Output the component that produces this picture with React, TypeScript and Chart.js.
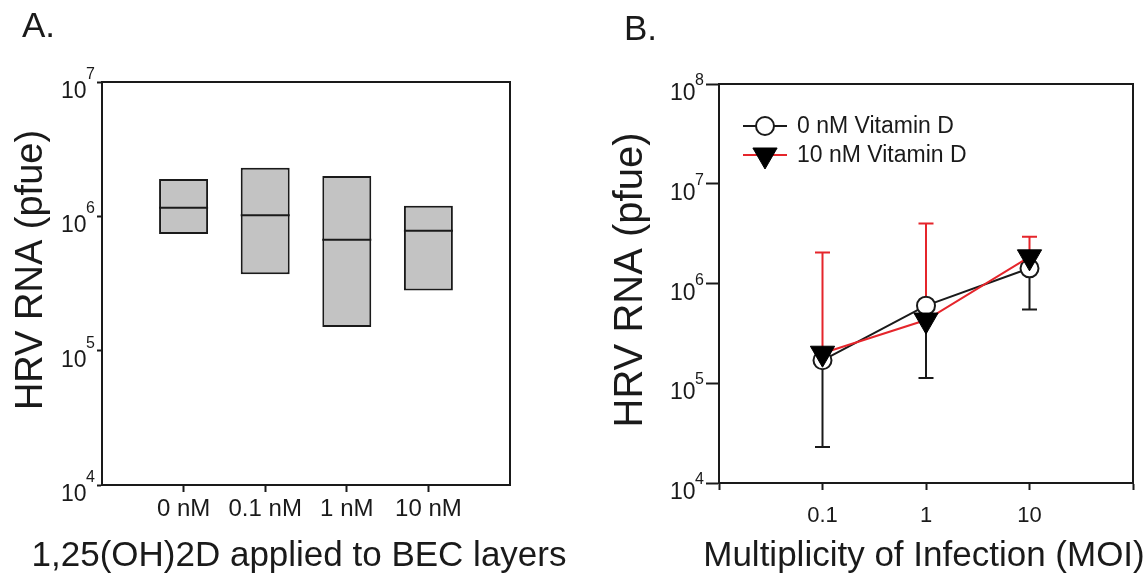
import React, { useEffect, useRef } from 'react';
import { Chart, registerables } from 'chart.js';
import { drawPoint } from 'chart.js/helpers';

Chart.register(...registerables);

const FONT = '"Liberation Sans", Arial, Helvetica, sans-serif';
const INK = '#1a1a1a';
const RED = '#e5252b';
const BOX_FILL = '#c3c3c3';

// ---------- Panel A data ----------
const A_CATEGORIES = ['0 nM', '0.1 nM', '1 nM', '10 nM'];
const A_LOW = [7.4e5, 3.7e5, 1.5e5, 2.8e5];
const A_HIGH = [1.9e6, 2.3e6, 2.0e6, 1.2e6];
const A_MEDIAN = [1.16e6, 1.02e6, 6.7e5, 7.8e5];
const A_Y_TICKS = [1e4, 1e5, 1e6, 1e7];

// ---------- Panel B data ----------
const B_MOI = [0.1, 1, 10];
const B_MEAN_0NM = [1.7e5, 6.0e5, 1.42e6];
const B_LOWER_0NM = [2.3e4, 1.13e5, 5.5e5];
const B_MEAN_10NM = [2.0e5, 4.3e5, 1.85e6];
const B_UPPER_10NM = [2.05e6, 4.0e6, 2.94e6];
const B_X_TICKS = [0.01, 0.1, 1, 10, 100];
const B_X_LABELED = [0.1, 1, 10];
const B_Y_TICKS = [1e4, 1e5, 1e6, 1e7, 1e8];
const B_SERIES = ['0 nM Vitamin D', '10 nM Vitamin D'];

type TextItem = { text: string; x: number; y: number; size: number; rotate?: boolean; align?: CanvasTextAlign };

function textPlugin(id: string, items: TextItem[]) {
  return {
    id,
    afterDraw(chart: any) {
      const ctx = chart.ctx;
      ctx.save();
      ctx.fillStyle = INK;
      ctx.textBaseline = 'alphabetic';
      items.forEach((it) => {
        ctx.font = `${it.size}px ${FONT}`;
        ctx.save();
        ctx.translate(it.x, it.y);
        if (it.rotate) ctx.rotate(-Math.PI / 2);
        ctx.textAlign = it.align || 'center';
        ctx.fillText(it.text, 0, 0);
        ctx.restore();
      });
      ctx.restore();
    },
  };
}

function powerTickPlugin(id: string, values: number[], o: { tickLen: number; gap: number; size: number; supSize: number; baseDy: number; supDy: number }) {
  return {
    id,
    afterDraw(chart: any) {
      const s = chart.scales.y;
      const ctx = chart.ctx;
      ctx.save();
      ctx.fillStyle = INK;
      ctx.textAlign = 'right';
      ctx.textBaseline = 'alphabetic';
      const right = s.right - o.tickLen - o.gap;
      values.forEach((v) => {
        const y = s.getPixelForValue(v);
        const exp = String(Math.round(Math.log10(v)));
        ctx.font = `${o.supSize}px ${FONT}`;
        const w = ctx.measureText(exp).width;
        ctx.fillText(exp, right, y + o.supDy);
        ctx.font = `${o.size}px ${FONT}`;
        ctx.fillText('10', right - w + 0.5, y + o.baseDy);
      });
      ctx.restore();
    },
  };
}

const framePlugin = {
  id: 'frame',
  beforeDatasetsDraw(chart: any) {
    const { left, top, right, bottom } = chart.chartArea;
    const ctx = chart.ctx;
    ctx.save();
    ctx.strokeStyle = INK;
    ctx.lineWidth = 2;
    ctx.strokeRect(left, top, right - left, bottom - top);
    ctx.restore();
  },
};

const medianPlugin = {
  id: 'medians',
  afterDatasetsDraw(chart: any) {
    const meta = chart.getDatasetMeta(0);
    const ys = chart.scales.y;
    const ctx = chart.ctx;
    ctx.save();
    ctx.strokeStyle = INK;
    ctx.lineWidth = 2;
    meta.data.forEach((bar: any, i: number) => {
      const { x, width } = bar.getProps(['x', 'width'], true);
      const y = ys.getPixelForValue(A_MEDIAN[i]);
      ctx.beginPath();
      ctx.moveTo(x - width / 2, y);
      ctx.lineTo(x + width / 2, y);
      ctx.stroke();
    });
    ctx.restore();
  },
};

const errorBarPlugin = {
  id: 'errorBars',
  beforeDatasetsDraw(chart: any) {
    const xs = chart.scales.x;
    const ys = chart.scales.y;
    const ctx = chart.ctx;
    const cap = 7.5;
    const draw = (x: number, y0: number, y1: number, color: string) => {
      ctx.strokeStyle = color;
      ctx.lineWidth = 2;
      ctx.beginPath();
      ctx.moveTo(x, y0);
      ctx.lineTo(x, y1);
      ctx.moveTo(x - cap, y1);
      ctx.lineTo(x + cap, y1);
      ctx.stroke();
    };
    ctx.save();
    B_MOI.forEach((m, i) => {
      const x = xs.getPixelForValue(m);
      draw(x, ys.getPixelForValue(B_MEAN_0NM[i]), ys.getPixelForValue(B_LOWER_0NM[i]), INK);
      draw(x, ys.getPixelForValue(B_MEAN_10NM[i]), ys.getPixelForValue(B_UPPER_10NM[i]), RED);
    });
    ctx.restore();
  },
};

const legendPlugin = {
  id: 'lineLegend',
  afterDatasetsDraw(chart: any) {
    const { left, top } = chart.chartArea;
    const ctx = chart.ctx;
    ctx.save();
    chart.data.datasets.forEach((ds: any, i: number) => {
      const y = top + 42 + i * 29;
      ctx.strokeStyle = ds.borderColor;
      ctx.lineWidth = ds.borderWidth;
      ctx.beginPath();
      ctx.moveTo(left + 24, y);
      ctx.lineTo(left + 68, y);
      ctx.stroke();
      ctx.fillStyle = ds.pointBackgroundColor;
      ctx.strokeStyle = ds.pointBorderColor;
      ctx.lineWidth = ds.pointBorderWidth;
      drawPoint(ctx, { pointStyle: ds.pointStyle, rotation: ds.pointRotation || 0, radius: ds.pointRadius, borderWidth: ds.pointBorderWidth }, left + 46, y);
      ctx.fillStyle = INK;
      ctx.font = `23px ${FONT}`;
      ctx.textAlign = 'left';
      ctx.textBaseline = 'middle';
      ctx.fillText(B_SERIES[i], left + 78, y + 1);
    });
    ctx.restore();
  },
};

function configA(): any {
  return {
    type: 'bar',
    data: {
      datasets: [
        {
          label: 'HRV RNA',
          data: A_CATEGORIES.map((_, i) => ({ x: i + 1, y: [A_LOW[i], A_HIGH[i]] })),
          backgroundColor: BOX_FILL,
          borderColor: INK,
          borderWidth: 2,
          borderSkipped: false,
          barPercentage: 0.6,
          categoryPercentage: 1,
        },
      ],
    },
    options: {
      responsive: false,
      animation: false,
      events: [],
      layout: { padding: { top: 82, right: 64, left: 0, bottom: 0 } },
      plugins: { legend: { display: false }, tooltip: { enabled: false } },
      scales: {
        x: {
          type: 'linear',
          min: 0,
          max: 5,
          offset: false,
          afterBuildTicks: (s: any) => { s.ticks = A_CATEGORIES.map((_, i) => ({ value: i + 1 })); },
          afterFit: (s: any) => { s.height = 90; },
          grid: { offset: false, drawOnChartArea: false, tickLength: 7, tickWidth: 2, tickColor: INK },
          border: { color: INK, width: 2 },
          ticks: {
            autoSkip: false,
            maxRotation: 0,
            color: INK,
            padding: 3,
            font: { size: 24, family: FONT },
            callback: (v: any) => A_CATEGORIES[Math.round(Number(v)) - 1] ?? '',
          },
        },
        y: {
          type: 'logarithmic',
          min: 1e4,
          max: 1e7,
          afterBuildTicks: (s: any) => { s.ticks = A_Y_TICKS.map((v) => ({ value: v })); },
          afterFit: (s: any) => { s.width = 102; },
          grid: { drawOnChartArea: false, tickLength: 5, tickWidth: 2, tickColor: INK },
          border: { color: INK, width: 2 },
          ticks: { display: false },
        },
      },
    },
    plugins: [
      framePlugin,
      medianPlugin,
      powerTickPlugin('aTicks', A_Y_TICKS, { tickLen: 5, gap: 2, size: 23, supSize: 16, baseDy: 16, supDy: -3 }),
      textPlugin('aText', [
        { text: 'A.', x: 22, y: 37, size: 35, align: 'left' },
        { text: 'HRV RNA (pfue)', x: 42, y: 270, size: 38, rotate: true },
        { text: '1,25(OH)2D applied to BEC layers', x: 299, y: 566, size: 35 },
      ]),
    ],
  };
}

function configB(): any {
  return {
    type: 'line',
    data: {
      datasets: [
        {
          label: B_SERIES[0],
          order: 1,
          data: B_MOI.map((x, i) => ({ x, y: B_MEAN_0NM[i] })),
          borderColor: INK,
          borderWidth: 2,
          pointStyle: 'circle',
          pointRadius: 9,
          pointBorderWidth: 2,
          pointBackgroundColor: '#ffffff',
          pointBorderColor: INK,
        },
        {
          label: B_SERIES[1],
          order: 0,
          data: B_MOI.map((x, i) => ({ x, y: B_MEAN_10NM[i] })),
          borderColor: RED,
          borderWidth: 2,
          pointStyle: 'triangle',
          pointRotation: 180,
          pointRadius: 14,
          pointBorderWidth: 1,
          pointBackgroundColor: '#000000',
          pointBorderColor: '#000000',
        },
      ],
    },
    options: {
      responsive: false,
      animation: false,
      events: [],
      layout: { padding: { top: 84, right: 13, left: 0, bottom: 0 } },
      plugins: { legend: { display: false }, tooltip: { enabled: false } },
      scales: {
        x: {
          type: 'logarithmic',
          min: 0.01,
          max: 100,
          afterBuildTicks: (s: any) => { s.ticks = B_X_TICKS.map((v) => ({ value: v })); },
          afterFit: (s: any) => { s.height = 92; },
          grid: { drawOnChartArea: false, tickLength: 7, tickWidth: 2, tickColor: INK },
          border: { color: INK, width: 2 },
          ticks: {
            autoSkip: false,
            maxRotation: 0,
            color: INK,
            padding: 13,
            font: { size: 22, family: FONT },
            callback: (v: any) => (B_X_LABELED.includes(Number(v)) ? String(v) : ''),
          },
        },
        y: {
          type: 'logarithmic',
          min: 1e4,
          max: 1e8,
          afterBuildTicks: (s: any) => { s.ticks = B_Y_TICKS.map((v) => ({ value: v })); },
          afterFit: (s: any) => { s.width = 145; },
          grid: { drawOnChartArea: false, tickLength: 13, tickWidth: 2, tickColor: INK },
          border: { color: INK, width: 2 },
          ticks: { display: false },
        },
      },
    },
    plugins: [
      framePlugin,
      errorBarPlugin,
      legendPlugin,
      powerTickPlugin('bTicks', B_Y_TICKS, { tickLen: 13, gap: 2, size: 23, supSize: 16, baseDy: 16, supDy: 1 }),
      textPlugin('bText', [
        { text: 'B.', x: 50, y: 40, size: 35, align: 'left' },
        { text: 'HRV RNA (pfue)', x: 68, y: 280, size: 40, rotate: true },
        { text: 'Multiplicity of Infection (MOI)', x: 350, y: 566, size: 35 },
      ]),
    ],
  };
}

export default function App() {
  const aRef = useRef<HTMLCanvasElement>(null);
  const bRef = useRef<HTMLCanvasElement>(null);

  useEffect(() => {
    document.body.style.margin = '0';
    Chart.defaults.font.family = FONT;
    Chart.defaults.color = INK;
    const a = new Chart(aRef.current as HTMLCanvasElement, configA());
    const b = new Chart(bRef.current as HTMLCanvasElement, configB());
    return () => {
      a.destroy();
      b.destroy();
    };
  }, []);

  return (
    <div style={{ position: 'relative', width: 1148, height: 575, background: '#ffffff', overflow: 'hidden' }}>
      <canvas ref={aRef} width={574} height={575} style={{ position: 'absolute', left: 0, top: 0, width: 574, height: 575 }} />
      <canvas ref={bRef} width={574} height={575} style={{ position: 'absolute', left: 574, top: 0, width: 574, height: 575 }} />
    </div>
  );
}
